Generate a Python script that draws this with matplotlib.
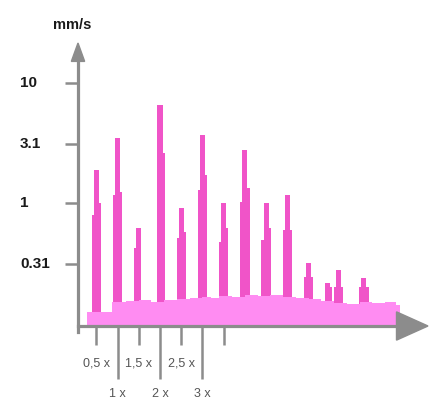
import matplotlib
matplotlib.use('Agg')
import matplotlib.pyplot as plt
from matplotlib.patches import Polygon
from matplotlib import transforms
from matplotlib.ticker import NullLocator

plt.rcParams['font.family'] = ['Liberation Sans', 'DejaVu Sans']

# peaks of the spectrum (order of rotation speed, mm/s)
peak_orders = [0.5, 1, 1.5, 2, 2.5, 3, 3.5, 4, 4.5, 5, 5.5, 5.95, 6.2, 6.8]
peak_tops = [1.88, 3.48, 0.62, 6.56, 0.91, 3.69, 1.0, 2.77, 1.0, 1.17, 0.316, 0.215, 0.277, 0.237]
left_shoulder = [0.79, 1.17, 0.42, 0, 0.51, 1.28, 0.47, 1.02, 0.49, 0.6, 0.24, 0, 0.2, 0.2]
right_shoulder = [1.0, 1.23, 0, 2.61, 0.57, 1.71, 0.62, 1.33, 0.62, 0.6, 0.24, 0.2, 0.2, 0.2]

# noise floor
floor_orders = [0.28, 0.87, 1.2, 1.5, 1.8, 2.1, 2.4, 2.7, 3.0, 3.2, 3.4, 3.7, 4.0,
                4.3, 4.6, 4.9, 5.2, 5.5, 5.8, 6.1, 6.4, 6.7, 7.0, 7.3, 7.55, 7.65]
floor_levels = [0.124, 0.150, 0.152, 0.155, 0.150, 0.156, 0.158, 0.161, 0.166, 0.160,
                0.168, 0.165, 0.170, 0.168, 0.172, 0.166, 0.163, 0.158, 0.152, 0.148,
                0.145, 0.150, 0.147, 0.149, 0.140, 0.140]

y_ticks = [10, 3.1, 1, 0.31]
y_labels = ['10', '3.1', '1', '0.31']
half_orders = [0.5, 1.5, 2.5, 3.5]
half_labels = ['0,5 x', '1,5 x', '2,5 x', '']
whole_orders = [1, 2, 3]
whole_labels = ['1 x', '2 x', '3 x']

grey = '#8c8c8c'
spike_col = '#f054c8'
floor_col = '#ff8cf2'
ymin, ymax = 0.0944, 21.5

fig = plt.figure(figsize=(4.4, 4.0), dpi=100)
ax = fig.add_axes([78 / 440, 1 - 326 / 400, 350 / 440, 283 / 400])
ax.set_yscale('log')
ax.set_xlim(0.07, 8.31)
ax.set_ylim(ymin, ymax)
ax.set_frame_on(False)

# spikes with their shoulders
w = 0.12
sw = 0.06
for o, t, l, r in zip(peak_orders, peak_tops, left_shoulder, right_shoulder):
    ax.bar(o, t - ymin, bottom=ymin, width=w, color=spike_col, lw=0, zorder=2)
    if l > 0:
        ax.bar(o - w / 2 - sw / 2 + 0.01, l - ymin, bottom=ymin, width=sw, color=spike_col, lw=0, zorder=2)
    if r > 0:
        ax.bar(o + w / 2 + sw / 2 - 0.01, r - ymin, bottom=ymin, width=sw, color=spike_col, lw=0, zorder=2)

ax.fill_between(floor_orders, ymin, floor_levels, step='post', color=floor_col, lw=0, zorder=3)

# axes with arrows
ax.plot([0, 0], [-0.021, 0.94], transform=ax.transAxes, color=grey, lw=2.3, clip_on=False, zorder=5)
ax.add_patch(Polygon([[-0.019, 0.935], [0.019, 0.935], [0, 1.0]], closed=True,
                     transform=ax.transAxes, color=grey, clip_on=False, zorder=5))
ax.plot([0, 0.915], [0, 0], transform=ax.transAxes, color=grey, lw=2.3, clip_on=False, zorder=5)
ax.add_patch(Polygon([[0.91, -0.05], [0.91, 0.05], [1.0, 0]], closed=True,
                     transform=ax.transAxes, color=grey, clip_on=False, zorder=5))

# y ticks
ax.set_yticks(y_ticks)
ax.set_yticklabels([''] * len(y_ticks))
ax.yaxis.set_minor_locator(NullLocator())
ax.tick_params(axis='y', which='major', direction='out', length=9.5, width=1.8, color=grey)
trans = transforms.blended_transform_factory(fig.transFigure, ax.transData)
for v, s in zip(y_ticks, y_labels):
    ax.text(20 / 440, v, s, transform=trans, ha='left', va='center',
            fontsize=11, fontweight='bold', color='#1a1a1a')
fig.text(72 / 440, 1 - 25 / 400, 'mm/s', ha='center', va='center',
         fontsize=10.5, fontweight='bold', color='#1a1a1a')

# x ticks: half orders short, whole orders long
ax.set_xticks(whole_orders)
ax.set_xticklabels(whole_labels)
ax.set_xticks(half_orders, minor=True)
ax.set_xticklabels(half_labels, minor=True)
ax.tick_params(axis='x', which='major', direction='out', length=38, width=1.8, color=grey,
               pad=6.5, labelsize=9, labelcolor='#555555')
ax.tick_params(axis='x', which='minor', direction='out', length=14, width=1.8, color=grey,
               pad=9, labelsize=9, labelcolor='#555555')

fig.savefig('out.png', dpi=100)
